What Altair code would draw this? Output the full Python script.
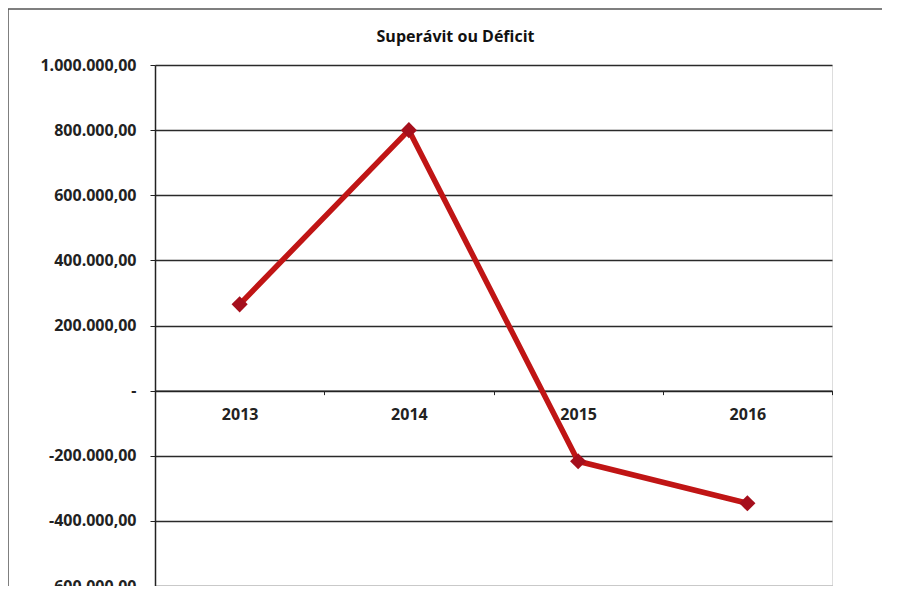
import altair as alt
import pandas as pd

years = ["2013", "2014", "2015", "2016"]
values = [265000, 800000, -217000, -346000]
title_text = "Superávit ou Déficit"
y_ticks = [-600000, -400000, -200000, 0, 200000, 400000, 600000, 800000, 1000000]

df = pd.DataFrame({"ano": years, "valor": values})

W, H = 677, 521
FONT = "Open Sans"
FS = 16

y_label_expr = (
    "datum.value == 0 ? '-\u00a0\u00a0\u00a0' : "
    "(datum.value < 0 ? '-' : '') + "
    "replace(replace(replace(format(abs(datum.value), ',.2f'), regexp(',', 'g'), '#'), "
    "regexp('[.]', 'g'), ','), regexp('#', 'g'), '.')"
)

x_enc = alt.X(
    "ano:O",
    sort=years,
    scale=alt.Scale(type="band", paddingInner=0, paddingOuter=0),
    axis=alt.Axis(
        title=None,
        labelAngle=0,
        offset=-(H * 600000 / 1600000),
        tickBand="extent",
        tickSize=4,
        tickColor="#222222",
        domainColor="#222222",
        domainWidth=1.5,
        labelPadding=12,
        labelFont=FONT,
        labelFontSize=FS,
        labelFontWeight="bold",
        labelColor="#222222",
        grid=False,
    ),
)

y_enc = alt.Y(
    "valor:Q",
    scale=alt.Scale(domain=[-600000, 1000000], nice=False, zero=False),
    axis=alt.Axis(
        title=None,
        values=y_ticks,
        labelExpr=y_label_expr,
        tickSize=5,
        tickColor="#222222",
        domainColor="#222222",
        domainWidth=1.5,
        labelPadding=14,
        labelFont=FONT,
        labelFontSize=FS,
        labelFontWeight="bold",
        labelColor="#222222",
        gridColor="#2a2a2a",
        gridWidth=1.6,
        gridOpacity=1,
    ),
)

line = alt.Chart(df).mark_line(color="#c01515", strokeWidth=5.5).encode(x=x_enc, y=y_enc)
pts = alt.Chart(df).mark_point(
    shape="diamond", filled=True, size=260, color="#a50f1c", opacity=1
).encode(x=alt.X("ano:O", sort=years), y="valor:Q")

one = pd.DataFrame({"k": [0]})
top_edge = alt.Chart(one).mark_rule(stroke="#555555", strokeWidth=1.5).encode(
    x=alt.value(-147), x2=alt.value(W + 60), y=alt.value(-56)
)
left_edge = alt.Chart(one).mark_rule(stroke="#555555", strokeWidth=1.5).encode(
    x=alt.value(-147), y=alt.value(-56), y2=alt.value(H + 20)
)

title = alt.Chart(one).mark_text(
    font=FONT, fontSize=16, fontWeight="bold", color="#111111",
    align="center", baseline="middle",
).encode(
    x=alt.value(W / 2 - 38), y=alt.value(-28), text=alt.value(title_text)
)

chart = (
    alt.layer(top_edge, left_edge, line, pts, title)
    .properties(
        width=W,
        height=H,
        autosize=alt.AutoSizeParams(type="none"),
        padding={"left": 147, "top": 57, "right": 50, "bottom": 0},
    )
    .configure_view(strokeWidth=0, strokeOpacity=0)
    .configure(background="white")
)

chart.save("out.html", embed_options={"renderer": "svg", "actions": False})
